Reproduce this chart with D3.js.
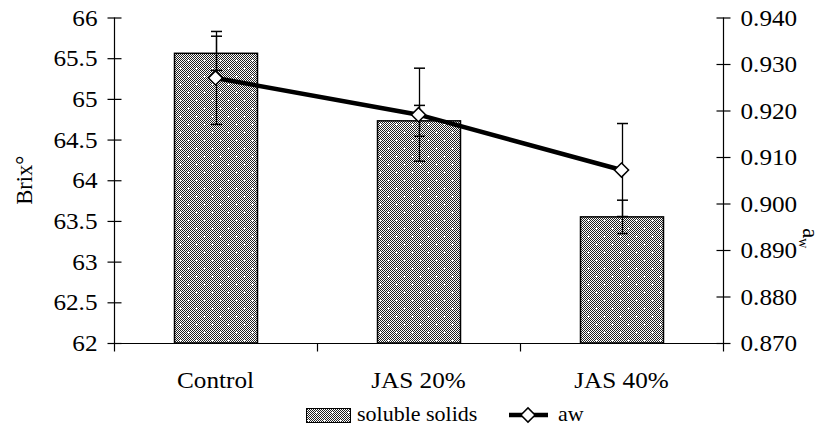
<!DOCTYPE html>
<html>
<head>
<meta charset="utf-8">
<script src="https://cdn.jsdelivr.net/npm/d3@7"></script>
<style>
  html, body { margin: 0; padding: 0; background: #fff; }
  svg { display: block; }
  text { font-family: "Liberation Serif", "Times New Roman", serif; fill: #000; }
</style>
</head>
<body>
<svg id="chart" width="824" height="428"></svg>
<script>
// ---- data ----
const categories = ["Control", "JAS 20%", "JAS 40%"];
const solubleSolids = [65.56, 64.73, 63.55];
const solubleSolidsErr = [0.21, 0.19, 0.205];
const aw = [0.9270, 0.9191, 0.9072];
const awErr = [0.0100, 0.0100, 0.0100];
const brixTicks = [62, 62.5, 63, 63.5, 64, 64.5, 65, 65.5, 66];
const awTicks = [0.870, 0.880, 0.890, 0.900, 0.910, 0.920, 0.930, 0.940];
const legendLabels = ["soluble solids", "aw"];

(function () {
// ---- layout ----
const pL = 114, pR = 723, pT = 17.5, pB = 343;
const fs = 22.5;
const stretch = 1.12;

const svg = d3.select("#chart");
const defs = svg.append("defs");

// checker base pattern
const checker = defs.append("pattern")
  .attr("id", "checker").attr("patternUnits", "userSpaceOnUse")
  .attr("width", 2).attr("height", 2);
checker.append("rect").attr("width", 2).attr("height", 2).attr("fill", "#fff");
checker.append("rect").attr("x", 0).attr("y", 0).attr("width", 1).attr("height", 1).attr("fill", "#222");
checker.append("rect").attr("x", 1).attr("y", 1).attr("width", 1).attr("height", 1).attr("fill", "#222");

// main fill pattern with white sparkles
const dots = defs.append("pattern")
  .attr("id", "dots").attr("patternUnits", "userSpaceOnUse")
  .attr("width", 16).attr("height", 16);
dots.append("rect").attr("width", 16).attr("height", 16).attr("fill", "url(#checker)");
[[4, 4], [12, 12]].forEach(([cx, cy]) => {
  dots.append("rect").attr("x", cx - 1).attr("y", cy).attr("width", 3).attr("height", 1).attr("fill", "#fff");
  dots.append("rect").attr("x", cx).attr("y", cy - 1).attr("width", 1).attr("height", 3).attr("fill", "#fff");
});

const x = d3.scaleBand().domain(categories).range([pL, pR])
  .paddingInner(0.59).paddingOuter(0.295);
const yL = d3.scaleLinear().domain([62, 66]).range([pB, pT]);
const yR = d3.scaleLinear().domain([0.870, 0.940]).range([pB, pT]);

// bars
svg.append("g").selectAll("rect").data(categories).join("rect")
  .attr("x", d => Math.round(x(d)) + 0.5)
  .attr("y", (d, i) => yL(solubleSolids[i]))
  .attr("width", Math.round(x.bandwidth()))
  .attr("height", (d, i) => pB - yL(solubleSolids[i]))
  .attr("fill", "url(#dots)")
  .attr("stroke", "#000").attr("stroke-width", 1.5);

// error bar helper
function errorBars(g, vals, errs, scale) {
  const cap = 5.5;
  categories.forEach((c, i) => {
    const cx = Math.round(x(c) + x.bandwidth() / 2) + 0.5;
    const y1 = scale(vals[i] + errs[i]), y2 = scale(vals[i] - errs[i]);
    g.append("line").attr("x1", cx).attr("x2", cx).attr("y1", y1).attr("y2", y2)
      .attr("stroke", "#000").attr("stroke-width", 1.3);
    [y1, y2].forEach(yy => g.append("line")
      .attr("x1", cx - cap).attr("x2", cx + cap).attr("y1", yy).attr("y2", yy)
      .attr("stroke", "#000").attr("stroke-width", 1.5));
  });
}
errorBars(svg.append("g"), solubleSolids, solubleSolidsErr, yL);
errorBars(svg.append("g"), aw, awErr, yR);

// aw line
const line = d3.line()
  .x((d, i) => x(categories[i]) + x.bandwidth() / 2)
  .y(d => yR(d));
svg.append("path").datum(aw).attr("d", line)
  .attr("fill", "none").attr("stroke", "#000").attr("stroke-width", 4.5);

svg.append("g").selectAll("path").data(aw).join("path")
  .attr("transform", (d, i) => `translate(${x(categories[i]) + x.bandwidth() / 2},${yR(d)}) rotate(45)`)
  .attr("d", d3.symbol().type(d3.symbolSquare).size(100))
  .attr("fill", "#fff").attr("stroke", "#000").attr("stroke-width", 1.5);

// axes
const axL = svg.append("g").attr("transform", `translate(${pL + 0.5},0)`)
  .call(d3.axisLeft(yL).tickValues(brixTicks).tickSize(7).tickPadding(10).tickFormat(d3.format("")));
const axR = svg.append("g").attr("transform", `translate(${pR + 0.5},0)`)
  .call(d3.axisRight(yR).tickValues(awTicks).tickSize(7).tickPadding(10).tickFormat(d3.format(".3f")));
[axL, axR].forEach(a => {
  a.attr("font-family", null).attr("font-size", null);
  a.select(".domain").attr("d", `M0,${pT}V${pB}`).attr("stroke", "#000").attr("stroke-width", 1.2);
  a.selectAll(".tick line").attr("x1", -7).attr("x2", 7).attr("stroke", "#000").attr("stroke-width", 1.2);
  a.selectAll(".tick text").attr("class", "stretch").attr("font-size", fs).attr("dy", "0.34em");
});

// x axis
const axB = svg.append("g").attr("transform", `translate(0,${pB + 0.5})`);
axB.append("line").attr("x1", pL).attr("x2", pR).attr("stroke", "#000").attr("stroke-width", 1.2);
const bounds = [pL, ...categories.slice(1).map(c => x(c) - x.step() * x.paddingInner() / 2), pR];
axB.selectAll("line.tk").data(bounds).join("line").attr("class", "tk")
  .attr("x1", d => Math.round(d) + 0.5).attr("x2", d => Math.round(d) + 0.5)
  .attr("y1", 0).attr("y2", 8).attr("stroke", "#000").attr("stroke-width", 1.2);
axB.selectAll("text").data(categories).join("text")
  .attr("class", "stretch")
  .attr("x", d => x(d) + x.bandwidth() / 2).attr("y", 44)
  .attr("text-anchor", "middle").attr("font-size", fs).text(d => d);

// axis titles
svg.append("text").attr("transform", `translate(32,${(pT + pB) / 2}) rotate(-90)`)
  .attr("text-anchor", "middle").attr("font-size", fs).text("Brix°");
const awT = svg.append("text").attr("transform", `translate(803,${(pT + pB) / 2 + 58}) rotate(90)`)
  .attr("text-anchor", "middle").attr("font-size", fs);
awT.append("tspan").text("a");
awT.append("tspan").attr("font-size", 14).attr("dy", 4).text("w");

// legend
const lg = svg.append("g");
lg.append("rect").attr("x", 306.5).attr("y", 408.5).attr("width", 44).attr("height", 14)
  .attr("fill", "url(#dots)").attr("stroke", "#000").attr("stroke-width", 1);
lg.append("text").attr("x", 357).attr("y", 421).attr("font-size", 22).text(legendLabels[0]);
lg.append("line").attr("x1", 509).attr("x2", 548).attr("y1", 415).attr("y2", 415)
  .attr("stroke", "#000").attr("stroke-width", 4.5);
lg.append("path").attr("transform", "translate(528,415) rotate(45)")
  .attr("d", d3.symbol().type(d3.symbolSquare).size(100))
  .attr("fill", "#fff").attr("stroke", "#000").attr("stroke-width", 1.5);
lg.append("text").attr("x", 558).attr("y", 421).attr("font-size", 22).text(legendLabels[1]);

// horizontal stretch of axis text, as in the reference
svg.selectAll("text.stretch").each(function () {
  const w = this.getComputedTextLength();
  d3.select(this).attr("textLength", w * stretch).attr("lengthAdjust", "spacingAndGlyphs");
});
})();
</script>
</body>
</html>
